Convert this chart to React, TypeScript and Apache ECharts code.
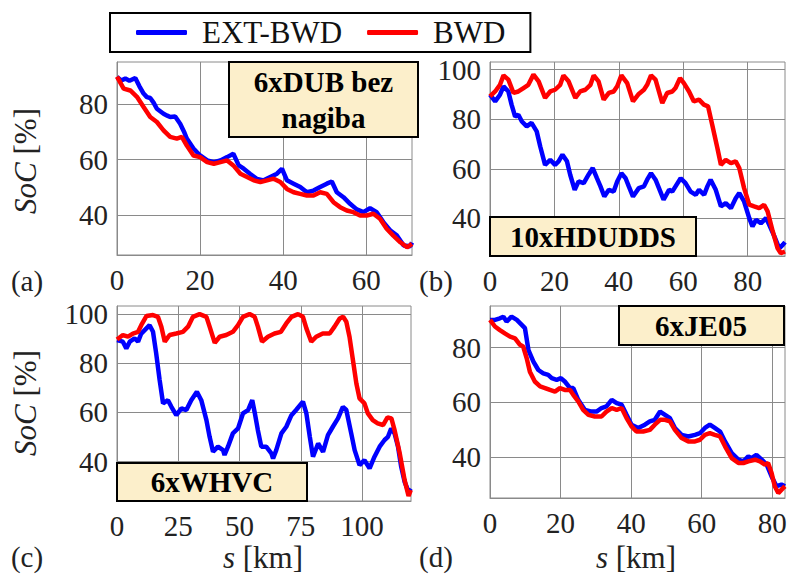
import { useEffect, useRef } from "react";
import * as echarts from "echarts";

const FONT = "Liberation Serif";

const seriesNames = ["EXT-BWD", "BWD"];
const boxTitles = ["6xDUB bez\nnagiba", "10xHDUDDS", "6xWHVC", "6xJE05"];
const panelLetters = ["(a)", "(b)", "(c)", "(d)"];

const xTicksA = [0, 20, 40, 60];
const xTicksB = [0, 20, 40, 60, 80];
const xTicksC = [0, 25, 50, 75, 100];
const xTicksD = [0, 20, 40, 60, 80];
const yTicksA = [40, 60, 80];
const yTicksB = [40, 60, 80, 100];
const yTicksC = [40, 60, 80, 100];
const yTicksD = [40, 60, 80];

const xMax = [71, 91.6, 120, 83.6];
const yMin = [25.5, 24.8, 24, 25];
const yMax = [95.3, 103.1, 103.3, 95.2];

// (a) 6xDUB bez nagiba
const extA: [number, number][] = [
  [0, 89.9], [1, 88.6], [2, 89.3], [3, 88.5], [4.4, 89.5], [5.4, 86.5], [6.4, 83.9], [7.2, 82.6], [8, 82.3], [8.8, 80.6], [9.6, 78.4],
  [11.2, 76.6], [12.1, 75.9], [12.8, 75.4], [14, 75.6], [15.2, 73], [16.1, 70.2], [16.8, 67.6], [17.6, 65.8], [18.4, 64], [20, 61.5], [21.7, 59.7],
  [23.3, 59.1], [24.9, 59.7], [26.5, 60.9], [28, 62.1], [29.3, 57.9], [30.5, 56.7], [32, 54.9], [33.7, 53],
  [35.3, 52.5], [36.9, 53.7], [38.5, 54.9], [39.7, 56.7], [40.9, 52.5], [42.5, 51.3], [44.1, 50.1], [45.7, 48.2],
  [47.3, 48.8], [48.9, 50.1], [50.5, 51.3], [51.7, 52.1], [52.9, 48.2], [54.5, 46.4], [56.1, 44], [57.7, 42],
  [59.3, 41], [60.9, 42.4], [62.5, 41], [64.1, 37.4], [65.8, 34.3], [67.4, 32.5], [69, 28.9], [70.6, 28.7], [71, 30],
];
const bwdA: [number, number][] = [
  [0, 90], [1.6, 85.7], [3.2, 85], [4.8, 82.7], [6.4, 79], [8, 75.4], [9.6, 73.6], [11.2, 70.6], [12.8, 68.2],
  [14.4, 67.6], [15.6, 68.2], [16.8, 65.1], [18.4, 61.5], [20, 60.9], [21.7, 59.1], [23.3, 58.5], [24.9, 59.1],
  [26.5, 59.7], [28, 57.9], [29.7, 54.9], [31.3, 53.7], [32.9, 52.5], [34.5, 51.9], [36.1, 52.5], [37.7, 53.1],
  [39.3, 51.9], [40.9, 49.4], [42.5, 48.2], [44.1, 47.6], [45.7, 47], [47.3, 47], [48.9, 48.2], [50.5, 47.6],
  [52.1, 44.6], [53.7, 42.8], [55.3, 41.6], [56.9, 41], [58.5, 39.8], [60.1, 39.8], [61.7, 40.4], [63.3, 38.6],
  [64.9, 35], [66.5, 32.5], [68.2, 30.1], [69.8, 28.3], [71, 29.5],
];

// (b) 10xHDUDDS
const extB: [number, number][] = [
  [0, 89.9], [1.6, 87.2], [3.1, 89.9], [4.2, 93.3], [5.7, 91.2], [6.7, 85.9], [7.8, 81.1], [8.8, 81.8], [9.9, 79.1],
  [11.4, 77.1], [12.9, 78.5], [14.5, 75.1], [15.6, 69], [17.1, 61.6], [18.7, 63.6], [20.2, 61.6], [21.3, 63],
  [22.5, 65.7], [23.9, 63], [24.9, 57.6], [26.3, 51.5], [27.5, 54.9], [29.1, 54.2], [30.6, 57.6], [31.9, 60.3],
  [33.2, 56.2], [34.3, 52.9], [35.5, 48.8], [36.9, 51.5], [38.4, 50.8], [39.5, 54.9], [40.8, 58.2], [42.1, 56.2],
  [43.1, 52.9], [44.4, 48.8], [46.2, 52.2], [47.8, 52.9], [48.8, 55.6], [50, 58.2], [51.4, 55.6], [52.9, 50.8],
  [53.9, 47.5], [55.6, 51.5], [56.6, 50.8], [57.9, 53.5], [59.2, 56.2], [60.7, 54.2], [62.3, 50.8], [63.9, 49.5],
  [64.9, 51.5], [66.5, 49.5], [67.5, 52.9], [68.5, 55.6], [70.1, 51.5], [71.7, 44.8], [73.2, 46.1], [74.8, 44.1],
  [76.3, 48.1], [77.4, 50.2], [78.9, 46.8], [80.5, 40.1], [81.5, 36.7], [82.6, 39.4], [84.1, 38], [85.7, 40.1],
  [86.7, 37.4], [88.3, 32.7], [89.8, 27.9], [90.9, 29.3], [91.6, 30.4],
];
const bwdB: [number, number][] = [
  [0, 89.2], [1.6, 91.2], [3.1, 93.9], [4.2, 97.7], [5.7, 96], [7.3, 90.6], [8.8, 91.2], [10.4, 92.6], [11.9, 93.9],
  [13.5, 98], [15.1, 95.3], [17.1, 88.6], [18.7, 91.2], [20.2, 91.9], [21.8, 93.9], [22.8, 97.7], [24.4, 95.3],
  [26.5, 88.6], [28, 91.2], [29.6, 91.9], [31.2, 93.9], [32.2, 97.7], [33.7, 95.3], [35.3, 87.9], [36.9, 90.6],
  [38.4, 91.2], [39.5, 93.3], [40.8, 97.7], [42.6, 94.6], [44.4, 87.2], [46.2, 90.2], [47.8, 91.9], [48.8, 93.9],
  [50, 97.7], [51.4, 96], [53.5, 86.5], [55, 90.6], [56.6, 91.2], [57.6, 92.6], [59, 96.6], [60.2, 94.6],
  [61.8, 91.2], [63.3, 87.2], [64.9, 87.9], [66.4, 85.9], [67.7, 85.2], [69, 77.8], [70.6, 68.4], [71.7, 61.6],
  [73.2, 63.6], [74.8, 62.3], [76.3, 63], [77.4, 60.3], [78.9, 52.2], [80.5, 45.5], [82, 44.8], [83.6, 44.1],
  [85.1, 45.5], [86.2, 42.8], [87.8, 34.7], [89.3, 27.9], [90.3, 25.9], [91.6, 26.6],
];

// (c) 6xWHVC
const extC: [number, number][] = [
  [0, 89.4], [2.4, 88.8], [3.8, 86], [5.2, 88.8], [7.2, 90.1], [8.6, 88.8], [9.9, 92.1], [12, 94.2], [13.3, 95.5],
  [14.7, 92.8], [16, 84], [17.4, 73.2], [18.8, 63.7], [20.8, 65], [22.2, 62.3], [24.2, 58.9], [26.3, 61.7],
  [28.3, 61], [30.3, 65], [32.6, 68.4], [34.4, 65], [36.5, 56.9], [37.8, 50.1], [39.2, 44], [41.2, 46.1],
  [43.3, 44.7], [43.9, 42.7], [45.3, 46.1], [47.3, 51.5], [49.4, 53.5], [51.4, 59.6], [53.5, 61], [55.2, 65],
  [56.2, 60], [57.5, 52.8], [58.9, 46.1], [60.9, 46.1], [63, 43.4], [63.7, 41.3], [65, 44.7], [67.1, 51.5],
  [69.1, 54.2], [71.2, 58.9], [73.1, 61], [75.9, 64.4], [77.3, 59.6], [78.7, 50.1], [80, 42], [82.1, 47.4],
  [84.1, 44], [86.1, 50.8], [88.1, 54.2], [90.2, 57.6], [92.2, 62.3], [93.6, 61], [95.6, 51.5], [97, 44.7],
  [99, 38.6], [101, 40.6], [103.1, 37.3], [105.1, 42], [107.2, 46.1], [109.2, 48.8], [110.6, 50.1], [111.9, 53.5],
  [113.3, 51.5], [114.7, 46.1], [116, 37.9], [117.4, 31.8], [119, 27.8], [119.9, 29.1],
];
const bwdC: [number, number][] = [
  [0, 89.7], [2.4, 91.5], [4.5, 90.8], [6.5, 92.1], [8.6, 92.8], [9.9, 95.5], [12, 99.2], [14.7, 99.6], [16.7, 98.9],
  [18.1, 94.9], [19.5, 88.8], [21.5, 91.5], [24.2, 92.1], [26.9, 92.8], [29, 94.9], [31, 98.9], [33.7, 100],
  [36.5, 98.9], [37.8, 94.9], [39.9, 88.3], [41.9, 90.8], [44.6, 91.5], [47.3, 92.8], [49.4, 95.5], [51.4, 98.9],
  [54.1, 100], [56.2, 98.9], [57.5, 94.9], [59.2, 88.8], [61.6, 90.8], [64.3, 92.1], [66.9, 92.8], [69.1, 96.2],
  [71.2, 98.9], [73.9, 100], [75.9, 98.9], [77.3, 94.2], [79.3, 88.8], [81.3, 90.8], [84, 92.1], [86.8, 92.1],
  [88.8, 94.9], [90.9, 98.2], [92.3, 98.9], [93.6, 96.9], [94.9, 90.8], [96.3, 81.3], [97.7, 71.8], [99, 65.7],
  [101, 63.7], [102.4, 59.6], [104.4, 56.9], [106.4, 55.6], [108.6, 54.9], [110.4, 58], [112, 57.6], [113.3, 52.8],
  [115.4, 43.4], [117.4, 32.5], [119, 26], [119.9, 28.5],
];

// (d) 6xJE05
const extD: [number, number][] = [
  [0, 90.1], [1.4, 90.1], [2.8, 90.7], [3.8, 91.3], [4.7, 89.5], [6.1, 91.3], [7.6, 90.1], [9, 88.3], [9.9, 87.1],
  [10.9, 79.1], [12.3, 74.9], [13.7, 71.8], [15.1, 70.6], [16.5, 70], [17.5, 68.8], [18.9, 68.2], [20.1, 68.8],
  [21.2, 67.6], [22.7, 65.2], [23.6, 65.2], [25, 60.9], [26.9, 57.2], [28.8, 56.6], [30.2, 56.6], [31.6, 57.9],
  [33, 58.5], [34.5, 60.9], [35.9, 59.7], [37.3, 59.1], [38.7, 55.4], [40.1, 51.8], [42, 50.6], [43.9, 51.8],
  [45.3, 53], [46.7, 53.6], [48.2, 56.6], [49.6, 55.4], [51, 54.2], [52.4, 50.6], [54.3, 48.1], [56.2, 47.5],
  [58.1, 48.1], [59.5, 48.7], [60.9, 50.6], [62.3, 51.8], [63.7, 50.6], [65.2, 49.3], [66.6, 45.7], [68.5, 41.4],
  [70.4, 39], [71.8, 38.4], [73.2, 40.2], [74.1, 39.6], [75.5, 40.8], [77, 39], [78.4, 37.2], [79.8, 32.9],
  [81.2, 29.3], [82.6, 29.9], [83.6, 29.3],
];
const bwdD: [number, number][] = [
  [0, 90.1], [1.4, 87.7], [2.8, 86.4], [4.2, 85.2], [5.7, 84], [7.1, 83.4], [8.5, 81], [9.4, 80.4], [10.4, 76.1],
  [11.3, 71.2], [12.7, 67.6], [14.2, 65.8], [15.6, 65.2], [17, 64.5], [18.4, 63.9], [19.8, 65.2], [21.2, 64.5],
  [22.7, 64.5], [23.6, 62.7], [25, 60.3], [26.4, 57.2], [27.9, 55.4], [29.7, 54.8], [31.6, 54.8], [33, 56.6],
  [34.5, 57.9], [35.9, 57.2], [37.3, 57.9], [38.7, 54.2], [40.1, 51.2], [41.5, 49.3], [43.4, 49.3], [45.3, 49.9],
  [46.7, 51.8], [48.2, 53.6], [49.6, 53.6], [51, 53], [52.4, 49.9], [54.3, 46.9], [56.2, 45.7], [58.1, 45.7],
  [59.5, 46.3], [60.9, 48.1], [62.3, 48.7], [63.7, 48.1], [65.2, 47.5], [66.6, 43.9], [68.5, 39.6], [70.4, 37.8],
  [71.8, 37.8], [73.2, 38.4], [75.1, 39], [76.5, 38.4], [77.9, 37.2], [78.8, 37.8], [79.8, 34.1], [80.7, 29.3],
  [81.7, 26.8], [83.1, 28.7], [83.6, 29.3],
];

const extData = [extA, extB, extC, extD];
const bwdData = [bwdA, bwdB, bwdC, bwdD];
const xTicks = [xTicksA, xTicksB, xTicksC, xTicksD];
const yTicks = [yTicksA, yTicksB, yTicksC, yTicksD];

const grids = [
  { left: 117, top: 62, width: 295, height: 193 },
  { left: 490, top: 62, width: 295, height: 194 },
  { left: 117, top: 306, width: 294, height: 195 },
  { left: 490, top: 306, width: 295, height: 192 },
];

const boxes = [
  { x: 229, y: 62, w: 189, h: 75, cx: 323.5, cy: 100 },
  { x: 490, y: 217, w: 206, h: 39, cx: 593, cy: 237 },
  { x: 117, y: 463, w: 190, h: 38, cx: 212, cy: 482 },
  { x: 619, y: 306, w: 165, h: 39, cx: 701, cy: 326 },
];

const GRID_COLOR = "#8a8a8a";
const TEXT_COLOR = "#222";

export default function App() {
  const ref = useRef<HTMLDivElement>(null);
  useEffect(() => {
    if (!ref.current) return;
    const chart = echarts.init(ref.current, undefined, { renderer: "svg" });

    const xAxis = grids.map((_, i) => ({
      gridIndex: i,
      type: "value",
      min: 0,
      max: xMax[i],
      axisLine: { show: true, lineStyle: { color: GRID_COLOR, width: 1 } },
      axisTick: { show: false, customValues: xTicks[i] },
      axisLabel: {
        customValues: xTicks[i],
        fontFamily: FONT,
        fontSize: 29,
        color: TEXT_COLOR,
        margin: 10,
      },
      splitLine: { show: true, lineStyle: { color: GRID_COLOR, width: 1 } },
    }));
    const yAxis = grids.map((_, i) => ({
      gridIndex: i,
      type: "value",
      min: yMin[i],
      max: yMax[i],
      axisLine: { show: true, lineStyle: { color: GRID_COLOR, width: 1 } },
      axisTick: { show: false, customValues: yTicks[i] },
      axisLabel: {
        customValues: yTicks[i],
        fontFamily: FONT,
        fontSize: 29,
        color: TEXT_COLOR,
        margin: 9,
      },
      splitLine: { show: true, lineStyle: { color: GRID_COLOR, width: 1 } },
    }));

    const series: any[] = [];
    grids.forEach((_, i) => {
      series.push({
        name: seriesNames[0],
        type: "line",
        xAxisIndex: i,
        yAxisIndex: i,
        data: extData[i],
        showSymbol: false,
        symbol: "none",
        lineStyle: { color: "#0000ff", width: 4.5 },
        itemStyle: { color: "#0000ff" },
      });
      series.push({
        name: seriesNames[1],
        type: "line",
        xAxisIndex: i,
        yAxisIndex: i,
        data: bwdData[i],
        showSymbol: false,
        symbol: "none",
        lineStyle: { color: "#ff0000", width: 4.5 },
        itemStyle: { color: "#ff0000" },
      });
    });

    const graphic: any[] = [];
    boxes.forEach((b, i) => {
      graphic.push({
        type: "rect",
        z: 100,
        shape: { x: b.x, y: b.y, width: b.w, height: b.h },
        style: { fill: "#fcefcb", stroke: "#000", lineWidth: 2 },
      });
      graphic.push({
        type: "text",
        z: 101,
        x: b.cx,
        y: b.cy,
        style: {
          text: boxTitles[i],
          fontFamily: FONT,
          fontSize: 29,
          fontWeight: "bold",
          lineHeight: 36,
          fill: "#000",
          align: "center",
          verticalAlign: "middle",
        },
      });
    });
    const letterPos = [
      [27, 281],
      [436, 281],
      [27, 557],
      [436, 557],
    ];
    panelLetters.forEach((t, i) => {
      graphic.push({
        type: "text",
        x: letterPos[i][0],
        y: letterPos[i][1],
        style: {
          text: t,
          fontFamily: FONT,
          fontSize: 29,
          fill: TEXT_COLOR,
          align: "center",
          verticalAlign: "middle",
        },
      });
    });
    const rich = { i: { fontStyle: "italic", fontFamily: FONT, fontSize: 31, fill: TEXT_COLOR } };
    [[25, 161], [25, 403]].forEach(([x, y]) => {
      graphic.push({
        type: "text",
        x,
        y,
        rotation: Math.PI / 2,
        style: {
          text: "{i|SoC} [%]",
          rich,
          fontFamily: FONT,
          fontSize: 31,
          fill: TEXT_COLOR,
          align: "center",
          verticalAlign: "middle",
        },
      });
    });
    [[263, 557], [636, 557]].forEach(([x, y]) => {
      graphic.push({
        type: "text",
        x,
        y,
        style: {
          text: "{i|s} [km]",
          rich,
          fontFamily: FONT,
          fontSize: 31,
          fill: TEXT_COLOR,
          align: "center",
          verticalAlign: "middle",
        },
      });
    });

    chart.setOption({
      animation: false,
      backgroundColor: "#fff",
      textStyle: { fontFamily: FONT },
      legend: {
        data: seriesNames,
        left: 110,
        top: 13,
        orient: "horizontal",
        padding: [4, 25, 4, 26],
        itemGap: 25,
        itemWidth: 51,
        itemHeight: 5,
        icon: "roundRect",
        borderColor: "#000",
        borderWidth: 2,
        backgroundColor: "#fff",
        textStyle: { fontFamily: FONT, fontSize: 31, color: "#111", padding: [0, 0, 0, 10] },
      },
      grid: grids.map((g) => ({ ...g, show: true, borderColor: GRID_COLOR, borderWidth: 1, backgroundColor: "#fff" })),
      xAxis,
      yAxis,
      series,
      graphic,
    });
    return () => chart.dispose();
  }, []);
  return (
    <div
      ref={ref}
      style={{ position: "fixed", left: 0, top: 0, width: 790, height: 574, background: "#fff" }}
    />
  );
}
